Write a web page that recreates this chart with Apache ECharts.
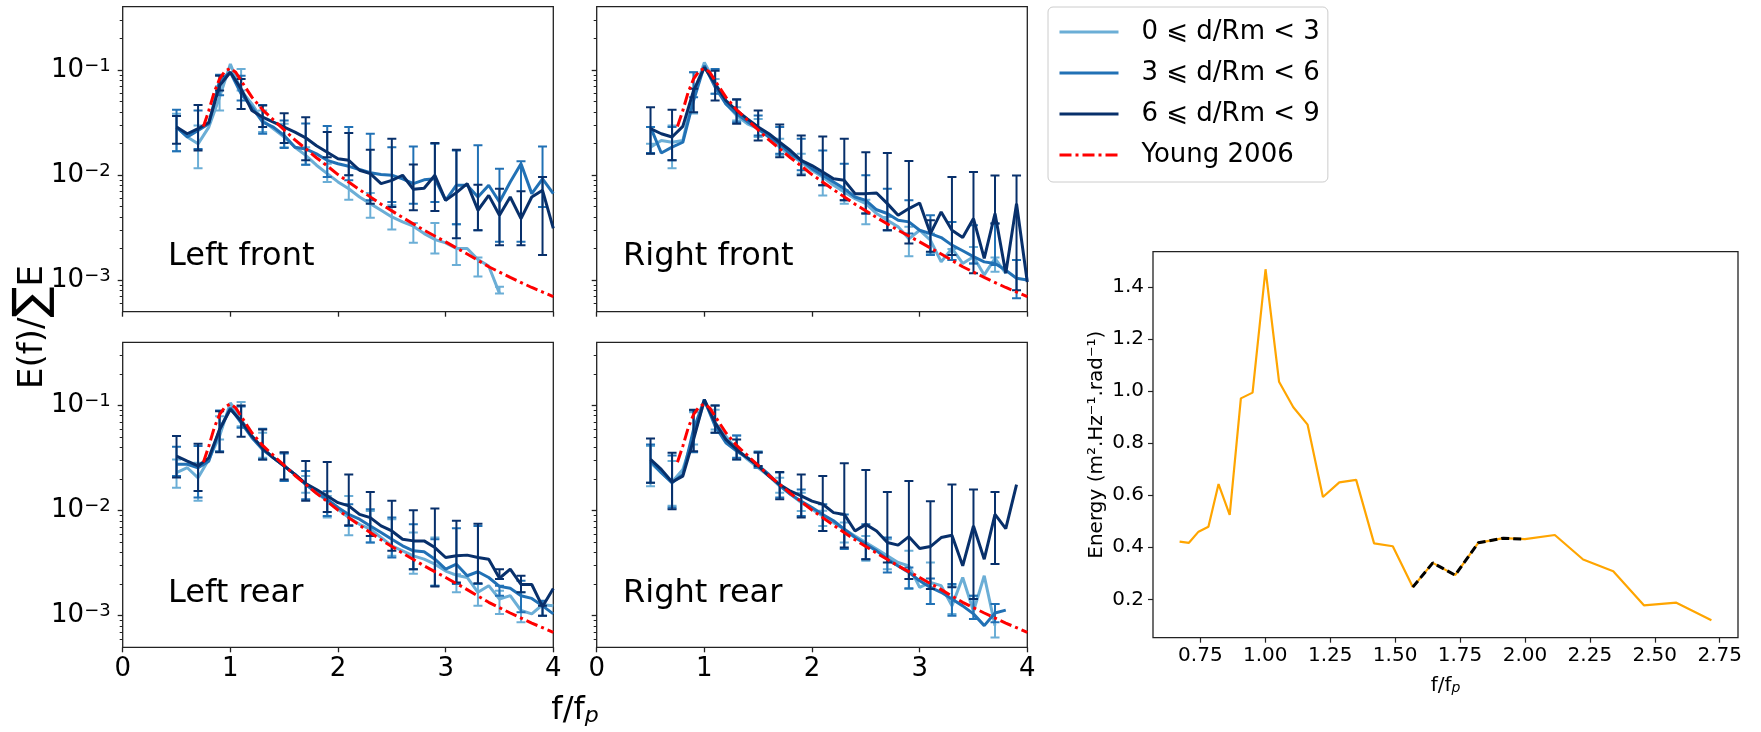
<!DOCTYPE html>
<html><head><meta charset="utf-8">
<script src="https://cdn.jsdelivr.net/npm/echarts@6/dist/echarts.min.js"></script>
<style>html,body{margin:0;padding:0;background:#fff}#c{width:1761px;height:732px}</style>
</head><body><div id="c"></div>
<script>
// ---------------- DATA ----------------
const freq = [0.5,0.6,0.7,0.8,0.9,1.0,1.1,1.2,1.3,1.4,1.5,1.6,1.7,1.8,1.9,2.0,2.1,2.2,2.3,2.4,2.5,2.6,2.7,2.8,2.9,3.0,3.1,3.2,3.3,3.4,3.5,3.6,3.7,3.8,3.9,4.0];
const errFreq = [0.5,0.7,0.9,1.1,1.3,1.5,1.7,1.9,2.1,2.3,2.5,2.7,2.9,3.1,3.3,3.5,3.7,3.9];
const panelNames = ['Left front','Right front','Left rear','Right rear'];
const seriesNames = ['0 ⩽ d/Rm < 3','3 ⩽ d/Rm < 6','6 ⩽ d/Rm < 9'];
const youngName = 'Young 2006';
const yMajorTicks = [0.001,0.01,0.1];
const yMinorTicks = [0.0006,0.0007,0.0008,0.0009,0.002,0.003,0.004,0.005,0.006,0.007,0.008,0.009,0.02,0.03,0.04,0.05,0.06,0.07,0.08,0.09,0.2,0.3];
const xTicks = [0,1,2,3,4];

// Left front
const lfLight = [0.0286,0.023,0.0198,0.0286,0.0551,0.114,0.0637,0.0476,0.033,0.0276,0.023,0.0184,0.0154,0.0124,0.0103,0.0086,0.0074,0.00618,0.00534,0.00462,0.00399,0.00358,0.00326,0.00277,0.00243,0.00226,0.002,0.002,0.00157,0.00136,0.000747,null,null,null,null,null];
const lfMid = [0.0286,0.023,0.0266,0.0307,0.079,0.095,0.0592,0.0442,0.0318,0.0286,0.0238,0.0184,0.0177,0.0159,0.0138,0.0128,0.0121,0.0113,0.0105,0.0101,0.00995,0.0092,0.00828,0.009,0.0092,0.00574,0.008,0.008,0.00618,0.008,0.00554,0.00858,0.0128,0.00665,0.0092,0.00665];
const lfDark = [0.0286,0.0247,0.0276,0.0316,0.071,0.095,0.066,0.0411,0.0355,0.0318,0.0286,0.0256,0.0226,0.019,0.0165,0.0143,0.0138,0.0111,0.0103,0.00828,0.0089,0.00995,0.00732,0.00748,0.00995,0.00574,0.0068,0.00828,0.00462,0.0064,0.00414,0.00618,0.00385,0.00618,0.00715,0.0031];
const lfLightHi = [0.0382,0.0296,0.07,0.102,0.0411,0.0307,0.0184,0.0128,0.00995,0.00675,0.00515,0.0035,0.0035,0.0034,0.00164,0.000865,null,null];
const lfLightLo = [0.0168,0.0116,0.0411,0.0637,0.0256,0.0184,0.0125,0.0086,0.00582,0.00393,0.00303,0.00226,0.00179,0.00139,0.00108,0.000747,null,null];
const lfMidHi = [0.0417,0.0411,0.090,0.088,0.0463,0.033,0.031,0.0293,0.0286,0.0247,0.0184,0.0187,0.0198,0.0171,0.0192,0.0115,0.0135,0.0187];
const lfMidLo = [0.0168,0.0177,0.0575,0.0512,0.0247,0.0181,0.0125,0.00957,0.0089,0.00574,0.00554,0.00534,0.00554,0.0034,0.00298,0.00231,0.00231,0.00497];
const lfDarkHi = [0.0364,0.0463,0.088,0.082,0.046,0.0388,0.0355,0.0256,0.0251,0.0174,0.0221,0.0126,0.0202,0.0174,0.0081,0.0074,0.007,0.00957];
const lfDarkLo = [0.0198,0.0171,0.0637,0.0426,0.0286,0.0202,0.0138,0.0148,0.00995,0.00534,0.00497,0.00462,0.00455,0.0025,0.00298,0.00215,0.00215,0.00173];

// Right front
const rfLight = [0.0184,0.0213,0.0205,0.0213,0.0592,0.118,0.0765,0.0476,0.0368,0.0307,0.0276,0.023,0.0184,0.0154,0.0133,0.0111,0.00957,0.00798,0.0069,0.00596,0.00534,0.0043,0.00371,0.00321,0.00247,0.00298,0.0024,0.00149,0.002,0.00144,0.00167,0.00112,0.00161,0.00116,null,null];
const rfMid = [0.0286,0.0162,0.0184,0.0205,0.0512,0.11,0.0686,0.0476,0.0382,0.0322,0.0276,0.023,0.0198,0.0159,0.0138,0.0115,0.00995,0.00858,0.00742,0.00618,0.00574,0.00467,0.0043,0.00371,0.00358,0.00298,0.00277,0.00254,0.00215,0.0019,0.00167,0.00149,0.00144,0.00124,0.00104,0.001];
const rfDark = [0.0276,0.0247,0.023,0.029,0.0637,0.106,0.0736,0.0512,0.0411,0.0342,0.0286,0.0247,0.0205,0.0171,0.0138,0.0123,0.0107,0.0092,0.0089,0.00665,0.00665,0.00675,0.00534,0.00414,0.00479,0.00542,0.00277,0.00445,0.00298,0.00254,0.00385,0.00161,0.0043,0.00116,0.00534,0.00096];
const rfLightHi = [0.0198,0.0296,0.095,0.082,0.0442,0.0342,0.0221,0.0159,0.00995,0.00715,0.00582,0.00399,0.00321,0.00277,0.00198,0.00207,0.00164,null];
const rfLightLo = [0.0159,0.0116,0.0386,0.0592,0.033,0.023,0.0154,0.0103,0.0064,0.00534,0.0034,0.00298,0.00169,0.00179,0.00155,0.00144,0.0012,null];
const rfMidHi = [0.0286,0.0286,0.095,0.102,0.052,0.0368,0.0286,0.0221,0.0171,0.0128,0.00995,0.0074,0.00574,0.00414,0.00358,0.00333,0.00345,0.00155];
const rfMidLo = [0.0162,0.0138,0.0551,0.0592,0.0318,0.0238,0.0159,0.0111,0.008,0.00574,0.0043,0.00298,0.00277,0.00173,0.00155,0.00144,0.00139,0.00067];
const rfDarkHi = [0.0442,0.0418,0.0663,0.0985,0.0527,0.0411,0.0302,0.0238,0.0233,0.0221,0.0165,0.0162,0.0136,0.00371,0.00957,0.0107,0.0099,0.0099];
const rfDarkLo = [0.0159,0.0138,0.0395,0.0512,0.0307,0.0213,0.0148,0.00995,0.008,0.00574,0.0043,0.00298,0.00223,0.00186,0.00173,0.00116,0.00345,0.0008];

// Left rear
const lrLight = [0.023,0.0256,0.0205,0.0307,0.0512,0.106,0.0736,0.0512,0.0382,0.0318,0.0266,0.0221,0.0181,0.0148,0.0124,0.0103,0.0086,0.0074,0.00665,0.00554,0.00462,0.00414,0.00371,0.00345,0.00309,0.00266,0.00243,0.00231,0.00167,0.00193,0.00144,0.00155,0.00112,0.00104,0.00127,0.00124];
const lrMid = [0.0276,0.0276,0.0256,0.0296,0.0592,0.095,0.0686,0.0494,0.0382,0.0318,0.0266,0.0221,0.0177,0.0148,0.0128,0.0107,0.0092,0.00828,0.00715,0.00618,0.00534,0.00462,0.00414,0.00405,0.00345,0.00277,0.00309,0.0024,0.00262,0.00231,0.0019,0.00182,0.00155,0.00146,0.00124,0.00104];
const lrDark = [0.033,0.0296,0.0266,0.0318,0.0592,0.0922,0.0713,0.0512,0.0394,0.0318,0.0266,0.0221,0.0181,0.0159,0.0138,0.0119,0.0111,0.0092,0.00858,0.00715,0.0064,0.00534,0.00515,0.00515,0.00445,0.00358,0.00371,0.00377,0.00358,0.00345,0.00227,0.00277,0.00198,0.00198,0.00122,0.00181];
const lrLightHi = [0.0307,0.0286,0.079,0.108,0.0551,0.0355,0.0213,0.0138,0.0138,0.0099,0.00828,0.00618,0.00554,0.00248,0.002,0.00173,0.00167,null];
const lrLightLo = [0.0165,0.0124,0.0476,0.0637,0.0318,0.0191,0.0148,0.0086,0.00582,0.00497,0.00371,0.0025,0.00193,0.00167,0.00124,0.00104,0.000865,null];
const lrMidHi = [0.0406,0.0411,0.0899,0.098,0.06,0.035,0.0238,0.0153,0.0115,0.0103,0.0086,0.0074,0.00534,0.0068,0.00715,0.00193,0.00215,0.00139];
const lrMidLo = [0.0213,0.0133,0.0368,0.0615,0.0307,0.0191,0.0128,0.0089,0.00715,0.00497,0.00358,0.00277,0.00193,0.002,0.002,0.00155,0.00108,0.001];
const lrDarkHi = [0.0512,0.0432,0.0885,0.1,0.0592,0.036,0.0296,0.029,0.0221,0.015,0.0124,0.0101,0.0105,0.008,0.0075,0.00277,0.0024,0.00124];
const lrDarkLo = [0.0207,0.0154,0.036,0.0505,0.0307,0.0198,0.0124,0.0097,0.00725,0.00574,0.00414,0.00277,0.0019,0.00207,0.00203,0.00223,0.00167,0.001];

// Right rear
const rrLight = [0.0286,0.023,0.0187,0.0247,0.0512,0.11,0.0686,0.0512,0.0382,0.0307,0.0256,0.0213,0.0171,0.0143,0.0119,0.0103,0.0089,0.00769,0.00665,0.00574,0.00497,0.0043,0.00371,0.00321,0.00298,0.00186,0.00207,0.00193,0.00124,0.00231,0.0011,0.0024,0.000804,null,null,null];
const rrMid = [0.0296,0.023,0.0184,0.0221,0.0592,0.114,0.0637,0.0442,0.0368,0.0318,0.027,0.0221,0.0174,0.0143,0.0123,0.0107,0.0092,0.008,0.00665,0.00554,0.00479,0.00414,0.00345,0.00298,0.00258,0.00215,0.00186,0.00167,0.00144,0.00124,0.00104,0.000804,0.00106,0.00113,null,null];
const rrDark = [0.0307,0.0247,0.0187,0.0213,0.0476,0.114,0.0686,0.0476,0.0382,0.0318,0.0266,0.0213,0.0177,0.0153,0.0138,0.0123,0.0115,0.00957,0.0092,0.0064,0.0074,0.0064,0.00497,0.00469,0.00565,0.00436,0.00455,0.00554,0.00582,0.00298,0.00715,0.00345,0.0092,0.00675,0.0177,null];
const rrLightHi = [0.0411,0.0296,0.0862,0.0912,0.052,0.0368,0.0205,0.0148,0.00995,0.00769,0.00574,0.00534,0.00414,0.00321,0.00193,0.00155,0.00129,null];
const rrLightLo = [0.0171,0.0111,0.0426,0.0592,0.0307,0.0256,0.0148,0.0099,0.00715,0.00497,0.00333,0.00277,0.00179,0.00129,0.00104,0.00093,0.00062,null];
const rrMidHi = [0.0426,0.0335,0.0899,0.1,0.052,0.0355,0.023,0.0159,0.0115,0.0092,0.0074,0.00554,0.00287,0.00226,0.002,0.00155,0.00129,null];
const rrMidLo = [0.0184,0.0107,0.036,0.0551,0.0318,0.0256,0.0133,0.0089,0.0064,0.0043,0.00345,0.00258,0.00182,0.00129,0.001,0.00093,0.000865,null];
const rrDarkHi = [0.0486,0.0355,0.0912,0.1,0.0476,0.036,0.0233,0.0221,0.0213,0.0282,0.0243,0.015,0.0191,0.0123,0.0177,0.0159,0.015,null];
const rrDarkLo = [0.0184,0.0103,0.0368,0.0551,0.0307,0.0266,0.0128,0.0086,0.0064,0.00445,0.00345,0.00321,0.00223,0.00179,0.00186,0.00144,0.0031,null];

// Young 2006 reference spectrum
const youngFreq = [0.75,0.8,0.85,0.9,0.95,1.0,1.05,1.1,1.2,1.3,1.4,1.5,1.6,1.7,1.8,1.9,2.0,2.2,2.4,2.6,2.8,3.0,3.2,3.4,3.6,3.8,4.0];
const youngVals = [0.0289,0.0411,0.0614,0.0822,0.0971,0.1037,0.095,0.079,0.0551,0.0417,0.0335,0.0269,0.0216,0.0178,0.0146,0.0122,0.0101,0.00726,0.00527,0.00394,0.00298,0.00231,0.00177,0.00134,0.00106,0.00085,0.000695];

// Right chart: energy spectrum
const energyFreq = [0.670,0.706,0.743,0.781,0.820,0.863,0.906,0.951,1.001,1.053,1.108,1.163,1.222,1.285,1.350,1.419,1.491,1.568,1.645,1.731,1.820,1.917,2.000,2.115,2.224,2.340,2.458,2.583,2.718];
const energyVals = [0.422,0.417,0.460,0.479,0.643,0.524,0.972,0.994,1.468,1.036,0.938,0.871,0.593,0.649,0.659,0.415,0.404,0.247,0.340,0.293,0.417,0.435,0.431,0.447,0.353,0.308,0.177,0.187,0.120];
const dashFrom = 17, dashTo = 22;
const energyXTicks = [0.75,1.0,1.25,1.5,1.75,2.0,2.25,2.5,2.75];
const energyYTicks = [0.2,0.4,0.6,0.8,1.0,1.2,1.4];

// ---------------- STYLE / LAYOUT ----------------
const FONT = 'DejaVu Sans';
const COLORS = ['#6baed6', '#2171b5', '#08306b'];
const C_YOUNG = '#ff0000';
const AX = '#222';
const panelBoxes = [
  {left: 122.7, top: 6.7},
  {left: 596.7, top: 6.7},
  {left: 122.7, top: 342.3},
  {left: 596.7, top: 342.3}
];
const PW = 430.6, PH = 305;

const panels = [
  {lines: [lfLight, lfMid, lfDark], hi: [lfLightHi, lfMidHi, lfDarkHi], lo: [lfLightLo, lfMidLo, lfDarkLo]},
  {lines: [rfLight, rfMid, rfDark], hi: [rfLightHi, rfMidHi, rfDarkHi], lo: [rfLightLo, rfMidLo, rfDarkLo]},
  {lines: [lrLight, lrMid, lrDark], hi: [lrLightHi, lrMidHi, lrDarkHi], lo: [lrLightLo, lrMidLo, lrDarkLo]},
  {lines: [rrLight, rrMid, rrDark], hi: [rrLightHi, rrMidHi, rrDarkHi], lo: [rrLightLo, rrMidLo, rrDarkLo]}
];

function errRender(color) {
  return function (params, api) {
    const x = api.value(0), lo = api.value(1), hi = api.value(2);
    const a = api.coord([x, hi]), b = api.coord([x, lo]);
    const hw = 4.5;
    const st = {stroke: color, lineWidth: 2, fill: null};
    return {type: 'group', children: [
      {type: 'line', shape: {x1: a[0], y1: a[1], x2: b[0], y2: b[1]}, style: st},
      {type: 'line', shape: {x1: a[0] - hw, y1: a[1], x2: a[0] + hw, y2: a[1]}, style: st},
      {type: 'line', shape: {x1: b[0] - hw, y1: b[1], x2: b[0] + hw, y2: b[1]}, style: st}
    ]};
  };
}

const grid = [], xAxis = [], yAxis = [], series = [];
panels.forEach((p, i) => {
  const box = panelBoxes[i];
  grid.push({left: box.left, top: box.top, width: PW, height: PH, show: true, borderColor: AX, borderWidth: 1.3, backgroundColor: 'transparent', containLabel: false});
  xAxis.push({
    type: 'value', gridIndex: i, min: 0, max: 4, interval: 1,
    axisLine: {show: false}, splitLine: {show: false},
    axisTick: {show: true, length: 5, lineStyle: {color: AX, width: 1.3}, customValues: xTicks},
    axisLabel: {show: i >= 2, customValues: xTicks, fontSize: 26, fontFamily: FONT, color: '#000', margin: 9}
  });
  yAxis.push({
    type: 'log', logBase: 10, gridIndex: i, position: 'left', min: 0.0005, max: 0.4,
    axisLine: {show: false}, splitLine: {show: false},
    axisTick: {show: true, length: 5, lineStyle: {color: AX, width: 1.3}, customValues: yMajorTicks},
    axisLabel: {
      show: i % 2 === 0, customValues: yMajorTicks, margin: 12,
      formatter: function (v) { const e = Math.round(Math.log10(v)); return '{b|10}{s|\u2212' + Math.abs(e) + '}'; },
      rich: {
        b: {fontSize: 26, fontFamily: FONT, color: '#000', lineHeight: 26, padding: [3, 0, 0, 0], verticalAlign: 'bottom'},
        s: {fontSize: 18, fontFamily: FONT, color: '#000', lineHeight: 18, verticalAlign: 'top'}
      }
    }
  });
  yAxis.push({
    type: 'log', logBase: 10, gridIndex: i, position: 'left', offset: 0, min: 0.0005, max: 0.4,
    axisLine: {show: false}, splitLine: {show: false},
    axisTick: {show: true, length: 3, lineStyle: {color: AX, width: 1}, customValues: yMinorTicks},
    axisLabel: {show: false}
  });
  for (let s = 0; s < 3; s++) {
    const errData = [];
    errFreq.forEach((f, k) => { if (p.hi[s][k] != null && p.lo[s][k] != null) errData.push([f, p.lo[s][k], p.hi[s][k]]); });
    series.push({
      type: 'custom', xAxisIndex: i, yAxisIndex: 2 * i, clip: true, silent: true,
      renderItem: errRender(COLORS[s]), encode: {x: 0, y: [1, 2]}, data: errData, z: 2 + s
    });
    series.push({
      type: 'line', name: seriesNames[s], xAxisIndex: i, yAxisIndex: 2 * i, symbol: 'none', silent: true,
      lineStyle: {color: COLORS[s], width: 3}, itemStyle: {color: COLORS[s]}, clip: true,
      data: freq.map((f, k) => [f, p.lines[s][k]]), connectNulls: false, z: 2 + s
    });
  }
  series.push({
    type: 'line', name: youngName, xAxisIndex: i, yAxisIndex: 2 * i, symbol: 'none', silent: true,
    lineStyle: {color: C_YOUNG, width: 3, type: [12, 4, 3, 4]}, itemStyle: {color: C_YOUNG}, clip: true,
    data: youngFreq.map((f, k) => [f, youngVals[k]]), z: 6
  });
});

// Right chart
grid.push({left: 1153, top: 251.7, width: 585, height: 386, show: true, borderColor: AX, borderWidth: 1.3, backgroundColor: 'transparent'});
xAxis.push({
  type: 'value', gridIndex: 4, min: 0.5676, max: 2.8204,
  axisLine: {show: false}, splitLine: {show: false},
  axisTick: {show: true, length: 5, lineStyle: {color: AX, width: 1.2}, customValues: energyXTicks},
  axisLabel: {customValues: energyXTicks, formatter: v => v.toFixed(2), fontSize: 20, fontFamily: FONT, color: '#000', margin: 8},
  name: '{a|f/f}{p|p}', nameLocation: 'middle', nameGap: 33,
  nameTextStyle: {rich: {
    a: {fontSize: 20, fontFamily: FONT, color: '#000', lineHeight: 20, verticalAlign: 'top'},
    p: {fontSize: 14, fontFamily: FONT, fontStyle: 'italic', color: '#000', lineHeight: 14, padding: [11, 0, 0, 0], verticalAlign: 'bottom'}
  }}
});
yAxis.push({
  type: 'value', gridIndex: 4, min: 0.0526, max: 1.5354,
  axisLine: {show: false}, splitLine: {show: false},
  axisTick: {show: true, length: 5, lineStyle: {color: AX, width: 1.2}, customValues: energyYTicks},
  axisLabel: {customValues: energyYTicks, formatter: v => v.toFixed(1), fontSize: 20, fontFamily: FONT, color: '#000', margin: 9},
  name: 'Energy (m\u00b2.Hz\u207b\u00b9.rad\u207b\u00b9)', nameLocation: 'middle', nameGap: 46,
  nameTextStyle: {fontSize: 20, fontFamily: FONT, color: '#000'}
});
series.push({
  type: 'line', xAxisIndex: 4, yAxisIndex: 8, symbol: 'none', silent: true,
  lineStyle: {color: '#ffa500', width: 2.2}, data: energyFreq.map((f, k) => [f, energyVals[k]]), z: 2
});
series.push({
  type: 'line', xAxisIndex: 4, yAxisIndex: 8, symbol: 'none', silent: true,
  lineStyle: {color: '#000', width: 3, type: [8, 4]},
  data: energyFreq.slice(dashFrom, dashTo + 1).map((f, k) => [f, energyVals[dashFrom + k]]), z: 3
});

const textStyleBase = {fontFamily: FONT, fill: '#000'};
const graphic = [];
const labelPos = [[168, 257], [623, 257], [168, 594], [623, 594]];
panelNames.forEach((n, i) => {
  graphic.push({type: 'text', x: labelPos[i][0], y: labelPos[i][1], z: 100, silent: true,
    style: Object.assign({text: n, fontSize: 32, verticalAlign: 'middle', align: 'left'}, textStyleBase)});
});
graphic.push({type: 'text', x: 33, y: 327, rotation: Math.PI / 2, z: 100, silent: true,
  style: {text: '{a|E(f)/}{b|\u2211}{a|E}', align: 'center', verticalAlign: 'middle', fill: '#000',
    rich: {a: {fontSize: 34, fontFamily: FONT, fill: '#000', color: '#000'}, b: {fontSize: 46, fontFamily: FONT, fill: '#000', color: '#000'}}}});
graphic.push({type: 'text', x: 575, y: 711, z: 100, silent: true,
  style: {text: '{a|f/f}{p|p}', align: 'center', verticalAlign: 'middle', fill: '#000',
    rich: {
      a: {fontSize: 32, fontFamily: FONT, color: '#000', fill: '#000', lineHeight: 32, verticalAlign: 'top'},
      p: {fontSize: 22, fontFamily: FONT, fontStyle: 'italic', color: '#000', fill: '#000', lineHeight: 22, padding: [16, 0, 0, 0], verticalAlign: 'bottom'}
    }}});

const option = {
  animation: false,
  backgroundColor: '#fff',
  grid, xAxis, yAxis, series, graphic,
  legend: {
    show: true, orient: 'vertical', left: 1048, top: 7,
    data: seriesNames.concat([youngName]),
    itemWidth: 59, itemHeight: 14, itemGap: 11,
    padding: [10, 8, 12, 10],
    borderColor: '#ccc', borderWidth: 1, borderRadius: 5, backgroundColor: '#fff',
    selectedMode: false,
    itemStyle: {opacity: 0, borderWidth: 0},
    lineStyle: {width: 3},
    textStyle: {fontSize: 26, fontFamily: FONT, color: '#000', lineHeight: 30, padding: [0, 0, 0, 18]}
  }
};
const chart = echarts.init(document.getElementById('c'), null, {renderer: 'canvas', width: 1761, height: 732});
chart.setOption(option);
</script>
</body></html>
